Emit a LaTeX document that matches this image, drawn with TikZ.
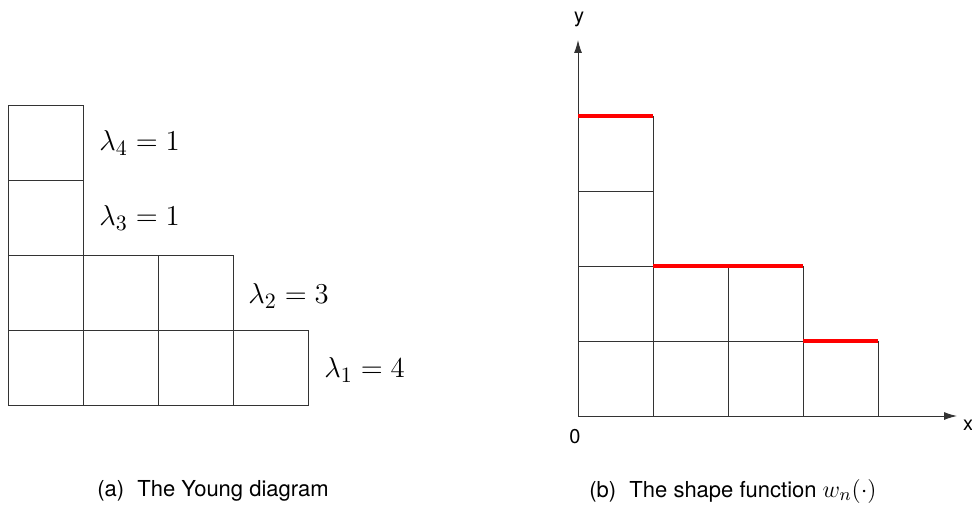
\documentclass[tikz,border=0pt]{standalone}
\usepackage{fontspec}
\setsansfont{TeX Gyre Heros}
\usetikzlibrary{arrows.meta}
\tikzset{
  cell/.style={draw=black!80, line width=0.5pt},
  lbl/.style={anchor=west, inner sep=0pt, font=\fontsize{15}{18}\selectfont},
  captext/.style={inner sep=0pt, font=\sffamily\fontsize{11}{13}\selectfont},
  axlbl/.style={inner sep=0pt, font=\sffamily\fontsize{10}{12}\selectfont},
  steptop/.style={draw=red, line width=1.8pt},
}
\begin{document}
\begin{tikzpicture}[x=0.5pt, y=-0.5pt, >={Latex[length=6.5pt, width=4pt]}]
\useasboundingbox (0,0) rectangle (972,508);
% (a) Young diagram, rows from the bottom
\foreach \len [count=\r] in {4,3,1,1}
  \foreach \c in {1,...,\len}
    \draw[cell] ({8+75*(\c-1)},{405-75*(\r-1)}) rectangle ({8+75*\c},{405-75*\r});
\node[lbl] (l4) at (99,143) {$\lambda_4 = 1$};
\node[lbl] (l3) at (99,218) {$\lambda_3 = 1$};
\node[lbl] (l2) at (248,296) {$\lambda_2 = 3$};
\node[lbl] (l1) at (324,370) {$\lambda_1 = 4$};
\node[captext] (capa) at (213,491) {(a)\hspace{0.6em}The Young diagram};
% (b) shape function, columns from the left
\foreach \h [count=\c] in {4,2,2,1}
  \foreach \r in {1,...,\h}
    \draw[cell] ({578+75*(\c-1)},{416-75*(\r-1)}) rectangle ({578+75*\c},{416-75*\r});
\coordinate (O) at (578,416);
\coordinate (xend) at (957,416);
\coordinate (yend) at (578,40);
\draw[cell, ->] (O) -- (xend);
\draw[cell, ->] (O) -- (yend);
\node[axlbl] (xl) at (968,425) {x};
\node[axlbl] (yl) at (579,19) {y};
\node[axlbl] (ol) at (575,437) {0};
\draw[steptop] (578,116) -- (653,116);
\draw[steptop] (653,266) -- (803,266);
\draw[steptop] (803,341) -- (878,341);
\node[captext] (capb) at (733,491) {(b)\hspace{0.6em}The shape function {\fontsize{13}{13}\selectfont$w_n(\cdot)$}};
\end{tikzpicture}
\end{document}
